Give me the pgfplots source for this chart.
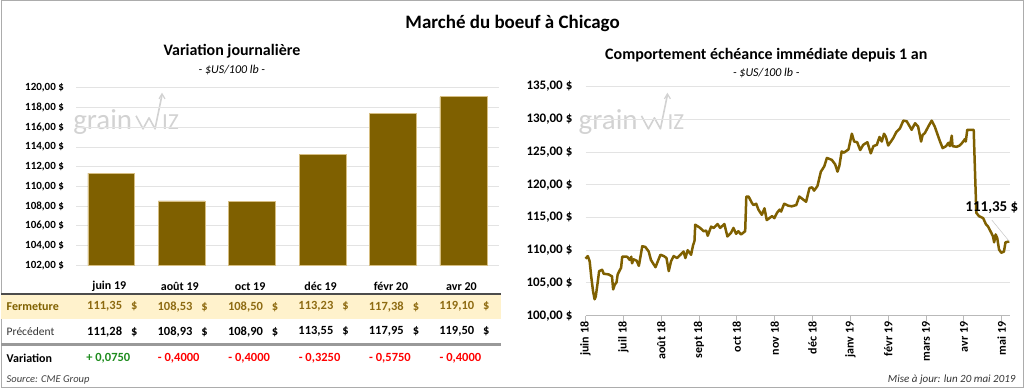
\documentclass[border=0pt]{standalone}
\usepackage{fontspec}
\setmainfont{Carlito}
\usepackage{pgfplots}
\pgfplotsset{compat=1.18}
\definecolor{brun}{HTML}{7F6000}
\definecolor{brunval}{HTML}{8E6B12}
\definecolor{beige}{HTML}{FFF2CC}
\definecolor{gridc}{HTML}{E3E3E3}
\definecolor{wm}{HTML}{D2D2D2}
\definecolor{vert}{HTML}{1E8C1E}
\definecolor{rouge}{HTML}{FF0000}
\newcommand{\fs}[1]{\fontsize{#1}{#1}\selectfont}

\begin{document}
\begin{tikzpicture}[x=1pt,y=1pt]
\draw[gray!65, line width=1pt] (0.5,0.5) rectangle (1023.5,387.5);

% titles
\node[font=\bfseries\fs{19}] at (512,365) {Marché du boeuf à Chicago};
\node[font=\bfseries\fs{16}] at (231,337) {Variation journalière};
\node[font=\itshape\fs{12}] at (231,318) {- \$US/100 lb -};
\node[font=\bfseries\fs{16}] at (766,333) {Comportement échéance immédiate depuis 1 an};
\node[font=\itshape\fs{12}] at (766,315) {- \$US/100 lb -};

% watermarks
\foreach \dx/\dy in {0/0, 506/0}{
  \begin{scope}[shift={(\dx,\dy)}]
  \node[wm, font=\fs{29}, anchor=base west, inner sep=0pt] at (72,258) {grain};
  \draw[wm, line width=1.6pt, line join=round] (135,272) -- (142,259) -- (148,270) -- (154,259) -- (161,293);
  \draw[wm, line width=1.2pt] (158,289) -- (161,294) -- (164,289);
  \node[wm, font=\fs{23}, anchor=base west, inner sep=0pt] at (161,258) {IZ};
  \end{scope}
}

% table background and rules
\fill[beige] (0,69) rectangle (500,94);
\draw[black!70, line width=1.8pt] (0,94) -- (500,94);
\draw[gray!80, line width=2.4pt] (0,43) -- (500,43);

\node[font=\bfseries\fs{12}, text=brun, anchor=west] at (2,81) {Fermeture};
\node[font=\fs{11.5}, text=black!80, anchor=west] at (2,56) {Précédent};
\node[font=\bfseries\fs{12}, anchor=west] at (2,29) {Variation};

\foreach \x/\h/\f/\p/\v/\c in {
  110.25/{juin 19}/{111,35}/{111,28}/{+ 0,0750}/vert,
  180.75/{août 19}/{108,53}/{108,93}/{- 0,4000}/rouge,
  251.25/{oct 19}/{108,50}/{108,90}/{- 0,4000}/rouge,
  321.75/{déc 19}/{113,23}/{113,55}/{- 0,3250}/rouge,
  392.25/{févr 20}/{117,38}/{117,95}/{- 0,5750}/rouge,
  462.75/{avr 20}/{119,10}/{119,50}/{- 0,4000}/rouge}{
  \node[font=\bfseries\fs{12}] at (\x-2,101) {\h};
  \node[font=\bfseries\fs{12.5}, text=brunval] at (\x+1,81) {\f\hspace{9pt}\$};
  \node[font=\bfseries\fs{12.5}] at (\x+1,56) {\p\hspace{9pt}\$};
  \node[font=\bfseries\fs{12.5}, text=\c] at (\x-3,29) {\v};
}

\node[font=\itshape\fs{10.5}, text=black!75, anchor=west] at (2,8) {Source: CME Group};
\node[font=\itshape\fs{11}, text=black!80, anchor=east] at (1019,8) {Mise à jour: lun 20 mai 2019};

% left bar chart
\begin{axis}[at={(75pt,122.3pt)}, anchor=south west, scale only axis,
  width=423pt, height=177.7pt,
  xmin=-0.5, xmax=5.5, ymin=102, ymax=120,
  ytick={102,104,...,120}, xtick=\empty,
  axis line style={draw=none},
  ymajorgrids, grid style={gridc, line width=0.9pt},
  major tick length=0pt,
  yticklabel style={font=\bfseries\fs{11}, inner sep=0pt, xshift=-12pt},
  yticklabel={\pgfmathprintnumber{\tick}~\$},
  /pgf/number format/.cd, fixed, fixed zerofill, precision=2, use comma, 1000 sep={}, assume math mode=true]
\addplot[ybar, bar width=47pt, fill=brun, draw={rgb,255:red,214;green,190;blue,130}, line width=0.6pt]
  coordinates {(0,111.35) (1,108.53) (2,108.50) (3,113.23) (4,117.38) (5,119.10)};
\end{axis}

% right line chart
\begin{axis}[at={(585pt,72pt)}, anchor=south west, scale only axis,
  width=425pt, height=229.3pt,
  xmin=0, xmax=11.22, ymin=100, ymax=135,
  ytick={100,105,...,135}, xtick={0,...,11},
  xticklabels={juin 18,juil 18,août 18,sept 18,oct 18,nov 18,déc 18,janv 19,févr 19,mars 19,avr 19,mai 19},
  axis x line*=bottom, axis y line*=left,
  y axis line style={draw=none},
  x axis line style={draw=gray!55, line width=0.9pt},
  ymajorgrids, grid style={gridc, line width=0.9pt},
  ytick style={draw=none},
  xtick style={draw=gray!55, line width=0.9pt},
  tick align=outside, major tick length=5pt,
  xticklabel style={rotate=90, anchor=east, font=\bfseries\fs{12}, inner sep=1pt},
  yticklabel style={font=\bfseries\fs{13}, inner sep=0pt, xshift=-8pt},
  yticklabel={\pgfmathprintnumber{\tick}~\$},
  clip=false,
  /pgf/number format/.cd, fixed, fixed zerofill, precision=2, use comma, 1000 sep={}, assume math mode=true]
\addplot[brun, line width=2.5pt, line join=round] table {
x y
0 108.7
0.06 109.1
0.11 108.3
0.15 106.0
0.20 103.7
0.24 102.5
0.27 102.9
0.32 105.0
0.36 106.8
0.44 107.0
0.48 106.4
0.61 106.3
0.70 106.0
0.73 104.0
0.77 104.7
0.82 105.1
0.85 106.3
0.91 107.0
0.94 107.3
0.97 109.0
1.10 109.0
1.17 108.5
1.21 109.0
1.23 108.0
1.27 108.6
1.35 108.4
1.41 107.6
1.50 110.6
1.58 110.5
1.67 109.8
1.73 108.5
1.85 107.4
1.91 108.3
1.98 109.3
2.07 109.1
2.14 108.8
2.20 106.8
2.26 108.3
2.33 109.1
2.42 108.8
2.51 109.3
2.59 109.8
2.64 108.8
2.70 110.0
2.79 109.3
2.84 110.7
2.88 111.4
2.90 113.9
3.03 113.4
3.12 112.9
3.19 113.0
3.23 112.2
3.32 113.6
3.39 113.4
3.49 114.0
3.56 113.4
3.67 114.0
3.75 112.1
3.84 112.6
3.91 113.4
3.98 112.5
4.04 112.9
4.11 112.4
4.22 112.9
4.25 118.2
4.31 118.2
4.40 117.2
4.44 116.9
4.51 117.1
4.57 116.2
4.66 115.4
4.73 116.4
4.79 114.6
4.86 114.9
4.93 115.2
4.99 114.9
5.06 115.7
5.13 116.2
5.17 115.9
5.25 117.1
5.36 116.8
5.45 116.7
5.57 116.9
5.65 118.2
5.74 117.8
5.83 117.4
5.92 119.5
5.99 119.6
6.04 119.1
6.13 119.8
6.22 122.0
6.31 122.8
6.38 124.1
6.51 123.8
6.60 123.1
6.66 122.0
6.71 122.9
6.77 125.1
6.83 124.9
6.95 125.4
7.04 127.8
7.10 126.6
7.18 126.5
7.26 125.3
7.34 126.1
7.45 126.5
7.54 124.8
7.61 125.9
7.70 126.1
7.77 127.3
7.83 126.6
7.89 127.8
7.94 127.3
8.00 126.0
8.13 127.1
8.22 128.1
8.31 128.6
8.40 129.8
8.49 129.7
8.62 128.4
8.71 129.4
8.79 128.9
8.87 126.6
8.91 127.6
8.97 127.9
9.06 128.9
9.15 129.8
9.23 128.9
9.37 126.6
9.44 125.6
9.53 125.9
9.59 126.4
9.63 125.9
9.68 127.5
9.70 125.9
9.81 125.8
9.89 126.0
9.97 126.5
10.03 127.0
10.05 126.6
10.09 128.4
10.20 128.4
10.26 128.4
10.29 122.8
10.33 115.7
10.40 115.2
10.51 114.9
10.58 114.0
10.64 113.6
10.73 112.6
10.77 112.1
10.80 111.2
10.84 112.4
10.88 111.9
10.93 110.1
10.99 109.6
11.06 109.8
11.10 111.2
11.20 111.35
};
\draw[gray!45, line width=0.5pt] (axis cs:10.74,114.6) -- (axis cs:11.2,111.35);
\node[font=\bfseries\fs{15}] at (axis cs:10.74,116.5) {111,35 \$};
\end{axis}
\end{tikzpicture}
\end{document}
